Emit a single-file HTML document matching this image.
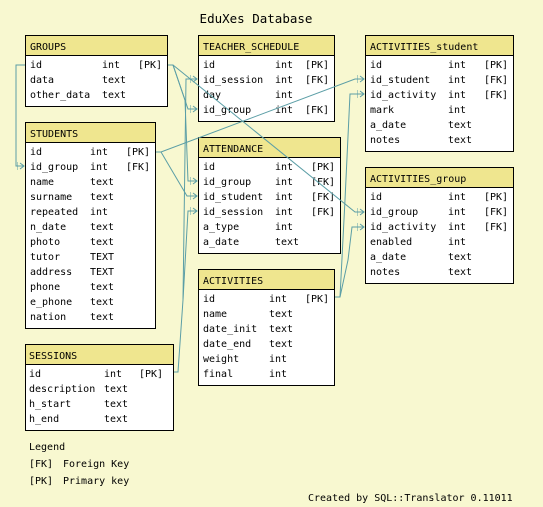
<!DOCTYPE html>
<html><head><meta charset="utf-8"><style>
html,body{margin:0;padding:0;background:#f8f8d0;}
svg{display:block;font-family:"DejaVu Sans Mono","Liberation Mono",monospace;font-size:10px;}
</style></head><body>
<svg width="543" height="507" viewBox="0 0 543 507" xmlns="http://www.w3.org/2000/svg">
<rect width="543" height="507" fill="#f8f8d0"/>
<defs>
<marker id="a" markerWidth="8" markerHeight="8" refX="7" refY="4" orient="auto" markerUnits="userSpaceOnUse">
<path d="M0,0 L0,8 M0,4 L7,4 M3,1 L7,4 L3,7" fill="none" stroke="#5b9ea6" stroke-width="1"/>
</marker>
</defs>
<text x="256" y="23" text-anchor="middle" font-size="12.5">EduXes Database</text>

<g>
<rect x="25.5" y="35.5" width="142" height="71" fill="#fff" stroke="#000"/>
<rect x="25.5" y="35.5" width="142" height="20" fill="#efe68f" stroke="#000"/>
<text x="30" y="50">GROUPS</text>
<text x="30" y="68">id</text><text x="102" y="68">int</text><text x="138" y="68">[PK]</text>
<text x="30" y="83">data</text><text x="102" y="83">text</text>
<text x="30" y="98">other_data</text><text x="102" y="98">text</text>
</g>
<g>
<rect x="198.5" y="35.5" width="136" height="86" fill="#fff" stroke="#000"/>
<rect x="198.5" y="35.5" width="136" height="20" fill="#efe68f" stroke="#000"/>
<text x="203" y="50">TEACHER_SCHEDULE</text>
<text x="203" y="68">id</text><text x="275" y="68">int</text><text x="305" y="68">[PK]</text>
<text x="203" y="83">id_session</text><text x="275" y="83">int</text><text x="305" y="83">[FK]</text>
<text x="203" y="98">day</text><text x="275" y="98">int</text>
<text x="203" y="113">id_group</text><text x="275" y="113">int</text><text x="305" y="113">[FK]</text>
</g>
<g>
<rect x="365.5" y="35.5" width="148" height="116" fill="#fff" stroke="#000"/>
<rect x="365.5" y="35.5" width="148" height="20" fill="#efe68f" stroke="#000"/>
<text x="370" y="50">ACTIVITIES_student</text>
<text x="370" y="68">id</text><text x="448" y="68">int</text><text x="484" y="68">[PK]</text>
<text x="370" y="83">id_student</text><text x="448" y="83">int</text><text x="484" y="83">[FK]</text>
<text x="370" y="98">id_activity</text><text x="448" y="98">int</text><text x="484" y="98">[FK]</text>
<text x="370" y="113">mark</text><text x="448" y="113">int</text>
<text x="370" y="128">a_date</text><text x="448" y="128">text</text>
<text x="370" y="143">notes</text><text x="448" y="143">text</text>
</g>
<g>
<rect x="25.5" y="122.5" width="130" height="206" fill="#fff" stroke="#000"/>
<rect x="25.5" y="122.5" width="130" height="20" fill="#efe68f" stroke="#000"/>
<text x="30" y="137">STUDENTS</text>
<text x="30" y="155">id</text><text x="90" y="155">int</text><text x="126" y="155">[PK]</text>
<text x="30" y="170">id_group</text><text x="90" y="170">int</text><text x="126" y="170">[FK]</text>
<text x="30" y="185">name</text><text x="90" y="185">text</text>
<text x="30" y="200">surname</text><text x="90" y="200">text</text>
<text x="30" y="215">repeated</text><text x="90" y="215">int</text>
<text x="30" y="230">n_date</text><text x="90" y="230">text</text>
<text x="30" y="245">photo</text><text x="90" y="245">text</text>
<text x="30" y="260">tutor</text><text x="90" y="260">TEXT</text>
<text x="30" y="275">address</text><text x="90" y="275">TEXT</text>
<text x="30" y="290">phone</text><text x="90" y="290">text</text>
<text x="30" y="305">e_phone</text><text x="90" y="305">text</text>
<text x="30" y="320">nation</text><text x="90" y="320">text</text>
</g>
<g>
<rect x="198.5" y="137.5" width="142" height="116" fill="#fff" stroke="#000"/>
<rect x="198.5" y="137.5" width="142" height="20" fill="#efe68f" stroke="#000"/>
<text x="203" y="152">ATTENDANCE</text>
<text x="203" y="170">id</text><text x="275" y="170">int</text><text x="311" y="170">[PK]</text>
<text x="203" y="185">id_group</text><text x="275" y="185">int</text><text x="311" y="185">[FK]</text>
<text x="203" y="200">id_student</text><text x="275" y="200">int</text><text x="311" y="200">[FK]</text>
<text x="203" y="215">id_session</text><text x="275" y="215">int</text><text x="311" y="215">[FK]</text>
<text x="203" y="230">a_type</text><text x="275" y="230">int</text>
<text x="203" y="245">a_date</text><text x="275" y="245">text</text>
</g>
<g>
<rect x="365.5" y="167.5" width="148" height="116" fill="#fff" stroke="#000"/>
<rect x="365.5" y="167.5" width="148" height="20" fill="#efe68f" stroke="#000"/>
<text x="370" y="182">ACTIVITIES_group</text>
<text x="370" y="200">id</text><text x="448" y="200">int</text><text x="484" y="200">[PK]</text>
<text x="370" y="215">id_group</text><text x="448" y="215">int</text><text x="484" y="215">[FK]</text>
<text x="370" y="230">id_activity</text><text x="448" y="230">int</text><text x="484" y="230">[FK]</text>
<text x="370" y="245">enabled</text><text x="448" y="245">int</text>
<text x="370" y="260">a_date</text><text x="448" y="260">text</text>
<text x="370" y="275">notes</text><text x="448" y="275">text</text>
</g>
<g>
<rect x="198.5" y="269.5" width="136" height="116" fill="#fff" stroke="#000"/>
<rect x="198.5" y="269.5" width="136" height="20" fill="#efe68f" stroke="#000"/>
<text x="203" y="284">ACTIVITIES</text>
<text x="203" y="302">id</text><text x="269" y="302">int</text><text x="305" y="302">[PK]</text>
<text x="203" y="317">name</text><text x="269" y="317">text</text>
<text x="203" y="332">date_init</text><text x="269" y="332">text</text>
<text x="203" y="347">date_end</text><text x="269" y="347">text</text>
<text x="203" y="362">weight</text><text x="269" y="362">int</text>
<text x="203" y="377">final</text><text x="269" y="377">int</text>
</g>
<g>
<rect x="25.5" y="344.5" width="148" height="86" fill="#fff" stroke="#000"/>
<rect x="25.5" y="344.5" width="148" height="20" fill="#efe68f" stroke="#000"/>
<text x="29" y="359">SESSIONS</text>
<text x="29" y="377">id</text><text x="104" y="377">int</text><text x="139" y="377">[PK]</text>
<text x="29" y="392">description</text><text x="104" y="392">text</text>
<text x="29" y="407">h_start</text><text x="104" y="407">text</text>
<text x="29" y="422">h_end</text><text x="104" y="422">text</text>
</g>
<g fill="none" stroke="#5b9ea6" stroke-width="1">
<polyline points="25,65 16,65 16,166 24,166" marker-end="url(#a)"/>
<polyline points="168,65 173,65 188,109 197,109" marker-end="url(#a)"/>
<polyline points="173,65 185,100 188,181 197,181" marker-end="url(#a)"/>
<polyline points="173,65 355,212 364,212" marker-end="url(#a)"/>
<polyline points="156,152 161,152 355,79 364,79" marker-end="url(#a)"/>
<polyline points="161,152 187,196 197,196" marker-end="url(#a)"/>
<polyline points="174,372 178,372 183,300 186,79 197,79" marker-end="url(#a)"/>
<polyline points="183,300 188,211 197,211" marker-end="url(#a)"/>
<polyline points="335,297 340,297 345,200 350,94 364,94" marker-end="url(#a)"/>
<polyline points="340,297 348,260 352,227 364,227" marker-end="url(#a)"/>
</g>
<text x="29" y="450">Legend</text>
<text x="29" y="467">[FK]</text><text x="63" y="467">Foreign Key</text>
<text x="29" y="484">[PK]</text><text x="63" y="484">Primary key</text>
<text x="308" y="501">Created by SQL::Translator 0.11011</text>
</svg>
</body></html>
